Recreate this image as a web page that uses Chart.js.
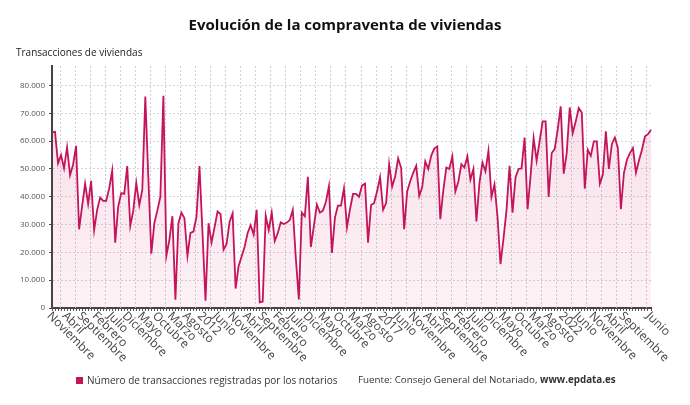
<!DOCTYPE html>
<html><head><meta charset="utf-8">
<script src="https://cdn.jsdelivr.net/npm/chart.js@4"></script>
<style>
html,body{margin:0;padding:0;background:#fff;}
#wrap{position:relative;width:690px;height:405px;font-family:"Open Sans",sans-serif;overflow:hidden;}
#cw{position:absolute;left:0;top:0;width:690px;height:405px;}
.title{position:absolute;left:0;width:690px;top:14px;text-align:center;font-size:15px;font-weight:700;color:#111;}
.sub{position:absolute;left:16px;top:45px;font-size:10px;color:#222;}
.foot{position:absolute;top:373px;font-size:10px;color:#333;white-space:nowrap;}
.sq{display:inline-block;width:7px;height:7px;background:#c4145c;margin-right:4px;vertical-align:-0px;}
</style></head>
<body>
<div id="wrap">
  <div id="cw"><canvas id="c"></canvas></div>
  <div class="title">Evolución de la compraventa de viviendas</div>
  <div class="sub">Transacciones de viviendas</div>
  <div class="foot" style="left:76px"><span class="sq"></span>Número de transacciones registradas por los notarios</div>
  <div class="foot" style="left:358px;font-size:9.8px">Fuente: Consejo General del Notariado, <b>www.epdata.es</b></div>
</div>
<script>
// Monthly data, November 2007 – June 2024
const monthNames = ["Enero","Febrero","Marzo","Abril","Mayo","Junio","Julio","Agosto","Septiembre","Octubre","Noviembre","Diciembre"];
const startYear = 2007;
const startMonth = 10; // Noviembre
const transacciones = [
 63100,63300,52000,55000,50200,57800,47800,51500,58300,28300,
 36500,44700,37500,45700,28000,35300,39700,38500,38500,43000,
 49400,23500,36500,41300,41000,51000,29500,35000,45000,37000,
 42500,76000,47000,19500,30500,35000,40000,76300,18800,24500,
 33000,3000,30500,34300,32300,18700,27000,27500,32800,51000,
 27000,2600,30500,23600,29000,34700,33800,21000,23000,31000,
 34000,7000,15100,18500,22000,27000,29800,26400,35300,2000,
 2300,33200,28000,34300,24100,26900,30800,30200,30700,31600,
 35300,18000,3100,34300,33000,47200,21900,29500,37200,34300,
 35000,38200,43800,19800,32500,36800,36800,43000,29000,35500,
 41000,41000,40000,44000,44700,23500,37000,37700,42000,47000,
 35300,37700,51700,43600,47300,53800,50300,28300,41900,45600,
 48600,51100,40300,43500,52700,50000,54800,57300,58100,31900,
 42300,50500,50000,54500,41900,45500,51700,50500,54500,46100,
 50000,31100,44900,52300,49100,56500,39900,44400,32900,15800,
 25000,35300,51100,34300,47000,50000,50200,61300,35500,47600,
 61100,53000,60000,67100,67100,39900,55700,57100,64100,72500,
 48300,55700,72100,62900,67100,71900,70300,42900,56900,54700,
 59900,59900,44700,47900,63500,50000,59000,61300,57500,35500,
 48500,53300,55700,57500,48700,53000,56900,61700,62500,64100
];
const yTicks = [0,10000,20000,30000,40000,50000,60000,70000,80000];
const seriesLabel = "Número de transacciones registradas por los notarios";

const categories = transacciones.map((_, i) => {
  const m = (startMonth + i) % 12;
  const y = startYear + Math.floor((startMonth + i) / 12);
  return monthNames[m] + " " + y;
});
const N = categories.length;
function tickText(i) {
  const show = (i % 5 === 0 && i <= N - 8) || i === N - 1;
  if (!show) return null;
  const m = (startMonth + i) % 12;
  const y = startYear + Math.floor((startMonth + i) / 12);
  return m === 0 ? String(y) : monthNames[m];
}
const fmt = v => String(v).replace(/\B(?=(\d{3})+(?!\d))/g, ".");

const decor = {
  id: 'decor',
  beforeDatasetsDraw(chart) {
    const {ctx, chartArea: a, scales: {x}} = chart;
    ctx.save();
    ctx.strokeStyle = '#cfcfcf'; ctx.lineWidth = 1; ctx.setLineDash([2, 2]);
    for (let v = 2.5; v < N; v += 5) {
      const px = Math.round(x.getPixelForValue(v)) + 0.5;
      ctx.beginPath(); ctx.moveTo(px, a.top); ctx.lineTo(px, a.bottom); ctx.stroke();
    }
    ctx.restore();
  },
  afterDraw(chart) {
    const {ctx, chartArea: a, scales: {x}} = chart;
    ctx.save();
    ctx.font = '12px "Open Sans"'; ctx.fillStyle = '#444';
    ctx.textAlign = 'left'; ctx.textBaseline = 'middle';
    for (let i = 0; i < N; i++) {
      const t = tickText(i);
      if (t === null) continue;
      const px = x.getPixelForValue(i);
      ctx.save(); ctx.translate(px - 3, a.bottom + 6); ctx.rotate(Math.PI / 4);
      ctx.fillText(t, 0, 0); ctx.restore();
    }
    ctx.restore();
  }
};

new Chart(document.getElementById('c'), {
  type: 'line',
  data: {
    labels: categories,
    datasets: [{
      label: seriesLabel,
      data: transacciones,
      borderColor: '#c4145c',
      borderWidth: 1.8,
      pointRadius: 0,
      tension: 0,
      fill: 'origin',
      backgroundColor(ctx) {
        const a = ctx.chart.chartArea;
        if (!a) return 'rgba(196,20,92,0.1)';
        const g = ctx.chart.ctx.createLinearGradient(0, a.top, 0, a.bottom);
        g.addColorStop(0, 'rgba(210,30,100,0.15)');
        g.addColorStop(1, 'rgba(210,30,100,0.06)');
        return g;
      }
    }]
  },
  options: {
    responsive: true, maintainAspectRatio: false, animation: false,
    layout: {padding: {top: 66, right: 39, bottom: 0, left: 0}},
    plugins: {legend: {display: false}, tooltip: {enabled: false}, title: {display: false}},
    scales: {
      x: {
        type: 'category',
        grid: {display: true, color: 'rgba(0,0,0,0)', drawTicks: true, tickLength: 3, tickColor: '#555', tickWidth: 1},
        ticks: {display: false, autoSkip: false},
        border: {display: true, color: '#444', width: 2},
        afterFit(s) { s.height = 97; }
      },
      y: {
        min: 0, max: 87000,
        afterBuildTicks(s) { s.ticks = yTicks.concat([87000]).map(v => ({value: v})); },
        grid: {color: '#d4d4d4', lineWidth: 1, drawTicks: true, tickLength: 3, tickColor: '#444'},
        border: {display: true, color: '#444', width: 2, dash: [2, 2]},
        ticks: {
          font: {family: 'Open Sans', size: 8}, color: '#555', padding: 4,
          callback: v => (v % 10000 === 0 ? fmt(v) : null)
        },
        afterFit(s) { s.width = 52; }
      }
    }
  },
  plugins: [decor]
});
</script>
</body></html>
